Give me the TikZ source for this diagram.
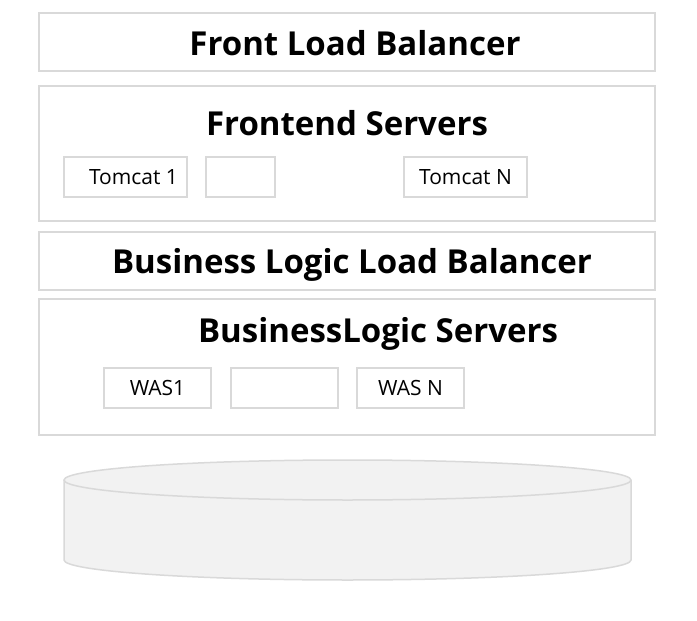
\documentclass[tikz,border=0pt]{standalone}
\usepackage{fontspec}
\setmainfont{Open Sans}
\usetikzlibrary{positioning}

\definecolor{boxgray}{HTML}{D9D9D9}
\definecolor{dbfill}{HTML}{F2F2F2}

\begin{document}
\begin{tikzpicture}[
    x=1pt, y=-1pt,
    layer_box/.style={draw=boxgray, line width=2pt, minimum width=616pt, inner sep=0pt},
    srv_box/.style={draw=boxgray, line width=2pt, minimum height=40pt, inner sep=0pt, font=\fontsize{21}{24}\selectfont},
    title_txt/.style={inner sep=0pt, font=\fontsize{33}{36}\selectfont\bfseries},
    db_line/.style={draw=boxgray, line width=1.5pt, fill=dbfill}
  ]
    \useasboundingbox (0,0) rectangle (697,621);

    % layers
    \node[layer_box, minimum height=58pt, anchor=north west] (front_lb) at (38,12) {};
    \node[layer_box, minimum height=135pt, below=13pt of front_lb] (fe_layer) {};
    \node[layer_box, minimum height=58pt, below=9pt of fe_layer] (bl_lb) {};
    \node[layer_box, minimum height=136pt, below=7pt of bl_lb] (bl_layer) {};

    \node[title_txt, xshift=8pt, yshift=-1pt] (front_lb_txt) at (front_lb) {Front Load Balancer};
    \node[title_txt] (fe_txt) at ([yshift=-38pt]fe_layer.north) {Frontend Servers};
    \node[title_txt, xshift=5pt, yshift=-4pt] (bl_lb_txt) at (bl_lb) {Business Logic Load Balancer};
    \node[title_txt, xshift=31pt] (bl_txt) at ([yshift=-36pt]bl_layer.north) {BusinessLogic Servers};

    % frontend servers
    \node[srv_box, minimum width=123pt, anchor=north west] (tc_first) at (63,156) {\hspace{16pt}Tomcat 1};
    \node[srv_box, minimum width=69pt, right=17pt of tc_first] (tc_mid) {};
    \node[srv_box, minimum width=123pt, right=127pt of tc_mid] (tc_last) {Tomcat N};

    % business logic servers
    \node[srv_box, minimum width=107pt, anchor=north west] (was_first) at (103,367) {WAS1};
    \node[srv_box, minimum width=107pt, right=18pt of was_first] (was_mid) {};
    \node[srv_box, minimum width=107pt, right=17pt of was_mid] (was_last) {WAS N};

    % database
    \draw[db_line] (64,480) -- (64,560)
      arc[start angle=180, end angle=0, x radius=283.5, y radius=20] -- (631,480);
    \draw[db_line] (347.5,480) ellipse[x radius=283.5, y radius=20];
\end{tikzpicture}
\end{document}
